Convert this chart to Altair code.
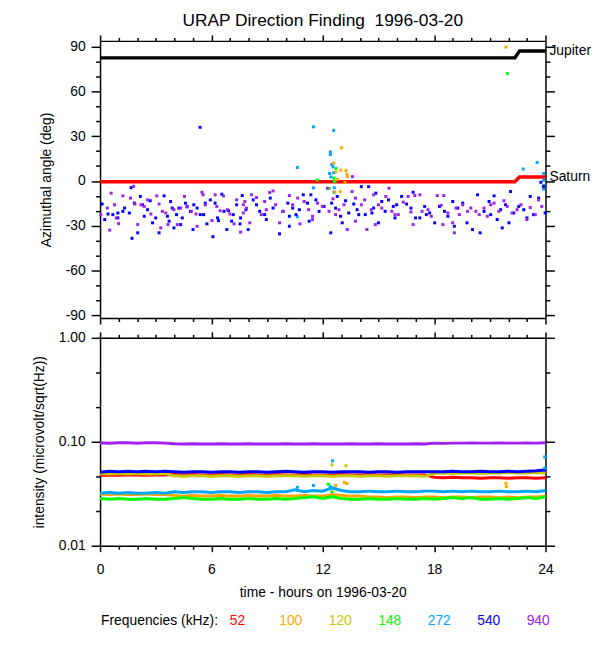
import altair as alt
import pandas as pd

FONT = "Liberation Sans"

# ---------------- categories / colours ----------------
FREQS = ["52", "100", "120", "148", "272", "540", "940"]
COLORS = ["#ff0000", "#ffa500", "#c8c800", "#00ff00", "#00a5ff", "#0000ff", "#a020f0"]

# ---------------- tick values ----------------
HOUR_TICKS = [0, 1, 2, 3, 4, 5, 6, 7, 8, 9, 10, 11, 12, 13, 14, 15, 16, 17, 18, 19, 20, 21, 22, 23, 24]
ANGLE_TICKS = [-90, -80, -70, -60, -50, -40, -30, -20, -10, 0, 10, 20, 30, 40, 50, 60, 70, 80, 90]
INTENSITY_TICKS = [0.01, 0.02154, 0.04642, 0.1, 0.2154, 0.4642, 1.0]

# ---------------- planet directions ----------------
PLANET_HOURS = [0, 22.35, 22.6, 24]
JUPITER_DEG = [82.6, 82.6, 87.2, 87.2]
SATURN_DEG = [-0.5, -0.5, 2.7, 2.7]

# ---------------- azimuth points (hour, deg) ----------------
AZ_540 = [
    (0.11, -15.5), (0.43, -22.2), (0.69, -22.6), (0.96, -21.5), (1.23, -20.4), (1.67, -4.5), (1.72, -38.5),
    (1.85, -14.9), (2.17, -10.4), (2.29, -16.0), (2.56, -19.3), (2.70, -13.3), (2.83, -28.1), (3.18, -34.8),
    (3.45, -10.0), (3.63, -23.7), (3.80, -13.8), (3.98, -31.5), (4.12, -22.6), (4.25, -18.2), (4.43, -24.8),
    (4.60, -14.9), (4.69, -17.1), (4.87, -20.4), (5.01, -32.6), (5.23, -18.2), (5.40, -22.6), (5.67, -14.9),
    (5.94, -12.7), (6.08, -37.4), (6.20, -14.9), (6.33, -24.8), (6.56, -8.9), (6.68, -20.4), (6.92, -20.0),
    (7.09, -27.0), (7.36, -16.0), (7.57, -24.8), (7.66, -9.8), (7.86, -19.3), (7.98, -32.6), (0.25, -25.9),
    (1.32, -18.2), (1.58, -21.5), (2.38, -23.7), (3.00, -24.8), (3.89, -18.2), (4.34, -29.3), (5.05, -16.0),
    (5.58, -22.6), (6.38, -26.6), (7.18, -22.6), (7.54, -28.8), (0.96, -24.8), (2.03, -34.8), (3.72, -27.0),
    (5.76, -28.8), (6.83, -32.6), (5.39, 36.0),
    (8.25, -12.7), (8.43, -16.0), (8.60, -20.4), (8.87, -22.6), (9.17, -11.5), (9.32, -18.2), (9.67, -35.5),
    (9.85, -20.4), (10.12, -14.9), (10.20, -30.4), (10.38, -18.2), (10.56, -22.6), (10.74, -19.3), (10.95, -9.3),
    (11.18, -14.9), (11.36, -9.3), (11.63, -12.7), (11.80, -20.4), (12.07, -17.1), (12.43, -34.8), (12.48, -14.9),
    (12.69, -18.2), (12.78, -10.4), (12.96, -23.7), (13.23, -13.3), (13.40, -21.5), (13.67, -15.5), (13.85, -19.3),
    (14.08, -3.8), (14.29, -22.6), (14.47, -3.8), (14.74, -18.2), (14.86, -8.2), (15.00, -28.1), (15.18, -13.8),
    (15.36, -20.4), (15.54, -12.7), (15.80, -17.1), (15.89, -24.8), (10.20, -23.7), (11.27, -27.0), (13.05, -28.1),
    (13.94, -22.6), (14.65, -21.5), (8.96, -25.9),
    (15.98, -16.0), (16.25, -10.4), (16.52, -15.5), (16.75, -18.2), (16.87, -7.6), (17.00, -24.8), (17.23, -24.8),
    (17.49, -17.1), (17.76, -21.5), (18.03, -28.1), (18.29, -17.1), (18.56, -20.4), (18.74, -23.7), (19.00, -13.8),
    (19.27, -18.2), (19.54, -14.9), (19.77, -28.1), (20.07, -32.6), (20.34, -9.3), (20.48, -34.8), (20.69, -20.4),
    (20.96, -13.8), (21.23, -10.0), (21.40, -25.9), (21.58, -19.3), (21.67, -31.5), (21.85, -16.0), (22.12, -7.1),
    (22.29, -21.5), (22.56, -17.1), (22.83, -19.3), (23.18, -10.4), (23.36, -22.6), (23.63, -11.5), (23.75, -0.9),
    (23.89, -3.8), (23.98, -21.5), (17.58, -22.6), (19.09, -30.4), (21.05, -22.6), (22.03, -28.1), (23.00, -24.8),
]

AZ_940 = [
    (0.04, -22.6), (0.39, -18.2), (0.52, -33.0), (0.60, -8.2), (0.78, -16.0), (0.87, -24.8), (1.00, -28.6),
    (1.23, -10.0), (1.64, -11.5), (1.81, -3.6), (1.88, -15.5), (2.20, -16.0), (2.38, -17.1), (2.56, -12.7),
    (2.74, -22.2), (3.06, -10.0), (3.18, -15.5), (3.36, -20.4), (3.54, -21.5), (3.66, -29.3), (3.98, -19.3),
    (4.16, -29.3), (4.55, -10.4), (4.69, -17.5), (4.92, -20.4), (5.17, -22.2), (5.49, -7.6), (5.55, -9.3),
    (5.67, -16.0), (6.03, -26.6), (6.20, -9.3), (6.47, -20.0), (6.65, -10.0), (6.86, -19.3), (7.00, -22.2),
    (7.22, -28.8), (7.36, -12.7), (7.57, -34.3), (7.72, -16.0), (7.80, -13.8), (7.89, -18.2), (8.07, -28.1),
    (2.03, -29.3), (3.27, -31.5), (4.34, -18.2), (5.23, -30.4), (6.29, -17.1), (7.72, -21.5),
    (8.16, -9.3), (8.43, -11.1), (8.69, -22.6), (8.96, -19.3), (9.14, -7.8), (9.32, -6.7), (9.46, -16.0),
    (9.67, -28.1), (9.88, -20.4), (10.20, -9.8), (10.38, -16.0), (10.65, -11.5), (10.77, -28.8), (11.00, -13.8),
    (11.24, -19.3), (11.45, -23.7), (11.72, -14.9), (11.98, -17.1), (12.25, -4.9), (12.34, -20.4), (12.55, -12.0),
    (12.69, -22.6), (12.87, -19.3), (13.14, -16.0), (13.32, -32.6), (13.58, -7.1), (13.76, -11.5), (14.08, -16.0),
    (14.26, -12.7), (14.38, -32.6), (14.61, -19.3), (14.74, -9.3), (15.00, -16.0), (15.18, -18.2), (15.40, -10.4),
    (15.57, -4.9), (15.72, -20.4), (15.89, -22.6), (13.76, -27.0), (14.83, -29.3), (11.45, -25.9), (8.87, -13.8),
    (13.60, 2.9),
    (16.07, -22.6), (16.34, -14.2), (16.60, -10.4), (16.75, -20.8), (16.96, -9.8), (17.23, -9.3), (17.35, -20.4),
    (17.67, -19.3), (17.85, -23.7), (18.17, -9.8), (18.38, -16.4), (18.52, -9.8), (18.74, -21.5), (19.00, -28.1),
    (19.18, -18.2), (19.36, -22.6), (19.54, -16.0), (19.80, -20.4), (19.98, -18.2), (20.25, -20.4), (20.43, -22.6),
    (20.69, -18.2), (20.87, -23.7), (21.05, -16.0), (21.23, -14.9), (21.49, -20.4), (21.76, -13.3), (21.94, -17.1),
    (22.20, -21.5), (22.47, -19.3), (22.68, -16.0), (23.00, -25.9), (23.18, -17.8), (23.45, -22.6), (23.63, -12.7),
    (23.80, -17.1), (16.87, -29.3), (18.47, -29.3), (19.09, -34.8),
]

AZ_272 = [
    (10.63, 9.0), (10.63, -24.0), (11.50, 36.3), (11.50, -4.6), (12.59, 33.9), (12.41, 19.5), (12.41, 17.7),
    (12.48, 11.0), (12.55, 9.5), (12.37, 5.0), (12.59, 5.5), (12.44, 2.7), (12.62, -4.6), (12.60, -7.5),
    (22.80, 8.0), (23.55, 12.4), (23.90, 5.0), (23.90, 0.5), (23.90, -3.0), (23.90, -5.5),
]
AZ_100 = [
    (13.00, 22.3), (12.60, 12.0), (12.98, 7.3), (13.25, 7.0), (13.30, 4.5), (13.33, 3.0), (12.80, 1.0),
    (13.20, -1.0), (12.94, -7.1), (12.65, -7.5), (21.87, 89.8), (12.70, 6.0),
]
AZ_148 = [
    (12.71, 8.4), (11.70, 0.6), (12.60, 2.0), (12.62, 0.0), (12.35, -5.0), (12.65, -0.5), (21.95, 72.1),
]

# ---------------- intensities ----------------
INT_HOURS = [0, 0.5, 1, 1.5, 2, 2.5, 3, 3.5, 4, 4.5, 5, 5.5, 6, 6.5, 7, 7.5, 8, 8.5, 9, 9.5, 10, 10.5,
             11, 11.5, 12, 12.5, 13, 13.5, 14, 14.5, 15, 15.5, 16, 16.5, 17, 17.5, 18, 18.5, 19, 19.5,
             20, 20.5, 21, 21.5, 22, 22.5, 23, 23.5, 24]

INT_52 = [0.0475, 0.048, 0.0475, 0.048, 0.048, 0.0475, 0.048, 0.048,
          0.0485, 0.048, 0.0485, 0.048, 0.048, 0.0485, 0.048, 0.048, 0.0485, 0.048, 0.048, 0.0485, 0.048, 0.048,
          0.0485, 0.048, 0.048, 0.048, 0.0485, 0.048, 0.048, 0.0485, 0.048, 0.048, 0.0485, 0.048, 0.048, 0.048,
          0.0455, 0.045, 0.0455, 0.045, 0.045, 0.0445, 0.045, 0.045, 0.0445, 0.045, 0.045, 0.0445, 0.045]
INT_100 = [0.0315, 0.031, 0.0315, 0.031, 0.031, 0.0315, 0.031, 0.031,
           0.0305, 0.030, 0.0305, 0.030, 0.030, 0.0305, 0.030, 0.030, 0.0305, 0.030, 0.030, 0.0305, 0.030, 0.030,
           0.0305, 0.030, 0.030, 0.031, 0.0305, 0.030, 0.030, 0.0295, 0.0295, 0.029, 0.0295, 0.0295, 0.029, 0.0295,
           0.0295, 0.029, 0.0295, 0.0295, 0.029, 0.0295, 0.0295, 0.029, 0.0295, 0.029, 0.0295, 0.0295, 0.030]
INT_120 = [0.0495, 0.049, 0.0495, 0.049, 0.0495, 0.049, 0.049, 0.0495,
           0.047, 0.0465, 0.047, 0.047, 0.0465, 0.047, 0.047, 0.0465, 0.047, 0.047, 0.0465, 0.047, 0.047, 0.047,
           0.0465, 0.047, 0.047, 0.0465, 0.047, 0.047, 0.0465, 0.047, 0.047, 0.0465, 0.047, 0.047, 0.047, 0.0465,
           0.0495, 0.050, 0.0495, 0.050, 0.050, 0.0495, 0.050, 0.050, 0.0505, 0.050, 0.050, 0.0505, 0.050]
INT_148 = [0.0285, 0.028, 0.0285, 0.028, 0.028, 0.0285, 0.028, 0.028,
           0.0285, 0.029, 0.0285, 0.028, 0.028, 0.0285, 0.028, 0.028, 0.0285, 0.028, 0.028, 0.0285, 0.028, 0.0285,
           0.029, 0.0295, 0.0285, 0.0295, 0.0285, 0.028, 0.028, 0.0285, 0.028, 0.028, 0.0285, 0.028, 0.028, 0.0285,
           0.028, 0.0285, 0.029, 0.0285, 0.029, 0.028, 0.028, 0.0285, 0.028, 0.0285, 0.029, 0.0285, 0.0295]
INT_272 = [0.032, 0.0325, 0.032, 0.0325, 0.032, 0.032, 0.0325, 0.032,
           0.033, 0.0325, 0.033, 0.033, 0.0325, 0.033, 0.033, 0.0325, 0.033, 0.033, 0.0325, 0.033, 0.033, 0.0345,
           0.033, 0.034, 0.0335, 0.036, 0.034, 0.033, 0.033, 0.0335, 0.033, 0.033, 0.0335, 0.033, 0.033, 0.0335,
           0.0335, 0.033, 0.0335, 0.033, 0.0335, 0.033, 0.033, 0.0335, 0.033, 0.033, 0.0335, 0.033, 0.034]
INT_540 = [0.051, 0.052, 0.0515, 0.052, 0.0515, 0.052, 0.0515, 0.052,
           0.0515, 0.051, 0.0515, 0.0515, 0.051, 0.0515, 0.0515, 0.051, 0.0515, 0.0515, 0.051, 0.0515, 0.052, 0.0515,
           0.051, 0.0515, 0.0515, 0.051, 0.0515, 0.0515, 0.0515, 0.051, 0.0515, 0.0515, 0.051, 0.0515, 0.0515, 0.0515,
           0.0515, 0.0515, 0.052, 0.0515, 0.0515, 0.052, 0.0515, 0.0515, 0.052, 0.0515, 0.052, 0.0525, 0.0535]
INT_940 = [0.098, 0.097, 0.098, 0.098, 0.097, 0.098, 0.098, 0.097,
           0.0955, 0.095, 0.0955, 0.095, 0.095, 0.0955, 0.095, 0.095, 0.0955, 0.095, 0.095, 0.095, 0.0955, 0.095,
           0.095, 0.0955, 0.095, 0.095, 0.095, 0.0955, 0.095, 0.095, 0.0955, 0.095, 0.095, 0.095, 0.0955, 0.095,
           0.097, 0.0965, 0.097, 0.097, 0.0975, 0.097, 0.097, 0.0975, 0.097, 0.097, 0.0975, 0.097, 0.098]

OUT_272 = [(12.53, 0.0655), (23.96, 0.0715), (23.96, 0.0559), (10.63, 0.0365), (11.50, 0.038), (12.40, 0.037), (12.60, 0.036)]
OUT_120 = [(13.25, 0.0587), (12.50, 0.060)]
OUT_100 = [(13.16, 0.0407), (13.30, 0.0397), (21.87, 0.0398), (21.90, 0.037), (12.70, 0.038)]
OUT_148 = [(12.30, 0.039), (12.50, 0.033)]

# ---------------- tables ----------------
planets = pd.DataFrame(
    [{"planet": "Jupiter", "hour": h, "deg": d} for h, d in zip(PLANET_HOURS, JUPITER_DEG)]
    + [{"planet": "Saturn", "hour": h, "deg": d} for h, d in zip(PLANET_HOURS, SATURN_DEG)]
)
planet_labels = pd.DataFrame([
    {"planet": "Jupiter", "hour": PLANET_HOURS[-1], "deg": JUPITER_DEG[-1]},
    {"planet": "Saturn", "hour": PLANET_HOURS[-1], "deg": SATURN_DEG[-1]},
])

az_rows = []
for f, pts in [("272", AZ_272), ("100", AZ_100), ("148", AZ_148), ("540", AZ_540), ("940", AZ_940)]:
    for h, d in pts:
        az_rows.append({"freq": f, "hour": h, "deg": d})
az_df = pd.DataFrame(az_rows)

int_rows = []
for f, vals in zip(FREQS, [INT_52, INT_100, INT_120, INT_148, INT_272, INT_540, INT_940]):
    for h, v in zip(INT_HOURS, vals):
        int_rows.append({"freq": f, "hour": h, "value": v})
int_df = pd.DataFrame(int_rows)

out_rows = []
for f, pts in [("272", OUT_272), ("120", OUT_120), ("100", OUT_100), ("148", OUT_148)]:
    for h, v in pts:
        out_rows.append({"freq": f, "hour": h, "value": v})
out_df = pd.DataFrame(out_rows)

leg_df = pd.DataFrame({"freq": FREQS})
hdr_df = pd.DataFrame({"label": ["Frequencies (kHz):"]})

# ---------------- scales & axes ----------------
xs = alt.Scale(domain=[0, 24], nice=False, zero=False)
ys_ang = alt.Scale(domain=[-92, 94], nice=False, zero=False)
ys_int = alt.Scale(type="log", domain=[0.01, 1.0], nice=False)
cs = alt.Scale(domain=FREQS, range=COLORS)

XT = {"condition": {"test": "datum.value % 6 === 0", "value": 6}, "value": 3.5}
YT_ANG = {"condition": {"test": "datum.value % 30 === 0", "value": 9}, "value": 4.5}
MAJ_INT = "abs(log(datum.value)/LN10 - round(log(datum.value)/LN10)) < 0.001"
YT_INT = {"condition": {"test": MAJ_INT, "value": 9}, "value": 4.5}

ax_x_bot_nolab = alt.Axis(orient="bottom", values=HOUR_TICKS, labels=False, title=None, tickSize=XT)
ax_x_top = alt.Axis(orient="top", values=HOUR_TICKS, labels=False, title=None, tickSize=XT)
ax_y_ang_left = alt.Axis(orient="left", values=ANGLE_TICKS, tickSize=YT_ANG,
                         labelExpr="datum.value % 30 === 0 ? toString(datum.value) : ''",
                         title="Azimuthal angle (deg)")
ax_y_ang_right = alt.Axis(orient="right", values=ANGLE_TICKS, tickSize=YT_ANG, labels=False, title=None)
ax_x_bot_lab = alt.Axis(orient="bottom", values=HOUR_TICKS, tickSize=XT,
                        labelExpr="datum.value % 6 === 0 ? toString(datum.value) : ''",
                        labelPadding=11, titlePadding=9,
                        title="time - hours on 1996-03-20")
ax_y_int_left = alt.Axis(orient="left", values=INTENSITY_TICKS, tickSize=YT_INT,
                         labelExpr=MAJ_INT + " ? format(datum.value, '.2f') : ''",
                         title="intensity (microvolt/sqrt(Hz))")
ax_y_int_right = alt.Axis(orient="right", values=INTENSITY_TICKS, tickSize=YT_INT, labels=False, title=None)

# ---------------- top panel ----------------
jup = alt.Chart(planets).transform_filter(alt.datum.planet == "Jupiter").mark_line(
    color="black", strokeWidth=3.5).encode(
    x=alt.X("hour:Q", scale=xs, axis=ax_x_top),
    y=alt.Y("deg:Q", scale=ys_ang, axis=ax_y_ang_right),
)
sat = alt.Chart(planets).transform_filter(alt.datum.planet == "Saturn").mark_line(
    color="#ff0000", strokeWidth=3.5).encode(
    x=alt.X("hour:Q", scale=xs, axis=None),
    y=alt.Y("deg:Q", scale=ys_ang, axis=None),
)
pts = alt.Chart(az_df).mark_square(size=9, opacity=1).encode(
    x=alt.X("hour:Q", scale=xs, axis=ax_x_bot_nolab),
    y=alt.Y("deg:Q", scale=ys_ang, axis=ax_y_ang_left),
    color=alt.Color("freq:N", scale=cs, legend=None),
)
plabels = alt.Chart(planet_labels).mark_text(
    align="left", baseline="middle", dx=4, fontSize=14, font=FONT, color="black").encode(
    x=alt.X("hour:Q", scale=xs, axis=None),
    y=alt.Y("deg:Q", scale=ys_ang, axis=None),
    text="planet:N",
)
top = alt.layer(jup, sat, pts, plabels).resolve_axis(x="independent", y="independent").properties(
    width=450, height=280,
    title=alt.TitleParams("URAP Direction Finding \u00a01996-03-20", fontSize=17.5, font=FONT,
                          fontWeight="normal", anchor="middle", frame="group", offset=5, color="black"),
)

# ---------------- bottom panel ----------------
lines = alt.Chart(int_df).mark_line(strokeWidth=3).encode(
    x=alt.X("hour:Q", scale=xs, axis=ax_x_bot_lab),
    y=alt.Y("value:Q", scale=ys_int, axis=ax_y_int_left),
    color=alt.Color("freq:N", scale=cs, legend=None),
)
outl = alt.Chart(out_df).mark_square(size=9, opacity=1).encode(
    x=alt.X("hour:Q", scale=xs, axis=ax_x_top),
    y=alt.Y("value:Q", scale=ys_int, axis=ax_y_int_right),
    color=alt.Color("freq:N", scale=cs, legend=None),
)
leg = alt.Chart(leg_df).mark_text(align="left", baseline="middle", fontSize=14, font=FONT).encode(
    x=alt.X("freq:N", sort=FREQS, scale=alt.Scale(type="point", domain=FREQS, range=[131, 431], padding=0), axis=None),
    y=alt.value(286),
    color=alt.Color("freq:N", scale=cs, legend=None),
    text="freq:N",
)
hdr = alt.Chart(hdr_df).mark_text(align="left", baseline="middle", fontSize=14, font=FONT, color="black").encode(
    x=alt.value(1),
    y=alt.value(286),
    text="label:N",
)
bottom = alt.layer(lines, outl, leg, hdr).resolve_scale(x="independent").resolve_axis(
    x="independent", y="independent").properties(width=450, height=210)

chart = alt.vconcat(top, bottom, spacing=20, bounds="flush").resolve_scale(
    x="independent", y="independent"
).properties(
    padding={"left": 24, "top": 0, "right": 0, "bottom": 4}
).configure_view(strokeWidth=0).configure_axis(
    grid=False, domainColor="black", domainWidth=1.5, tickColor="black", tickWidth=1.5,
    labelFont=FONT, labelFontSize=14, labelColor="black", titleFont=FONT, titleFontSize=14,
    titleFontWeight="normal", titleColor="black", labelFlush=False, labelOverlap=False,
    labelPadding=6, titlePadding=12,
)

chart.save("out.html", embed_options={"renderer": "svg", "actions": False})
